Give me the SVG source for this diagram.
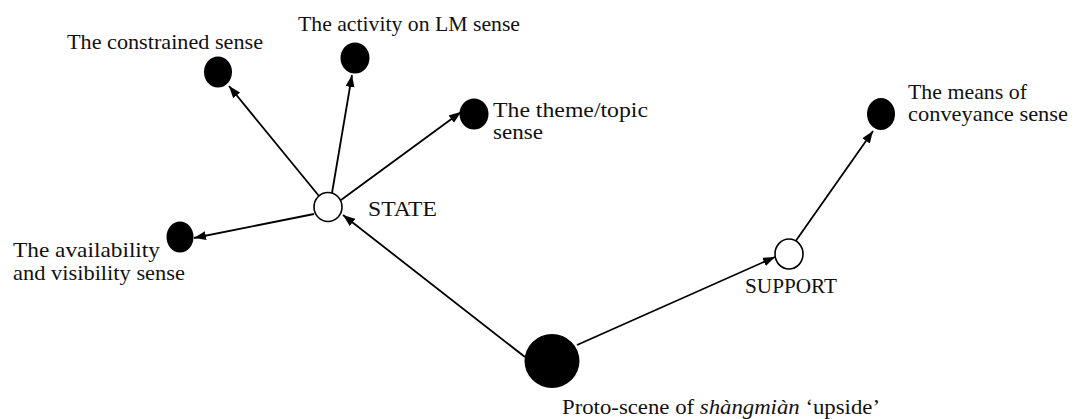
<svg xmlns="http://www.w3.org/2000/svg" width="1073" height="419" viewBox="0 0 1073 419">
  <style>
    .bg { fill: #ffffff; }
    .edge { stroke: #000000; stroke-width: 1.8; fill: none; marker-end: url(#arrow); }
    .solid { fill: #000000; }
    .hollow { fill: #ffffff; stroke: #000000; stroke-width: 1.6; }
    .lbl { font-family: "Liberation Serif", "Times New Roman", serif; font-size: 21px; fill: #111111; }
    .cap { font-family: "Liberation Serif", "Times New Roman", serif; font-size: 21px; fill: #111111; }
  </style>
  <defs>
    <marker id="arrow" markerUnits="userSpaceOnUse" markerWidth="13" markerHeight="10" refX="12" refY="4.5" orient="auto">
      <path d="M0,0 L12,4.5 L0,9 Z" fill="#000000"/>
    </marker>
  </defs>

  <rect class="bg" x="0" y="0" width="1073" height="419"/>

  <!-- connectors -->
  <g id="connectors">
    <line class="edge" x1="525" y1="357" x2="343" y2="215"/>
    <line class="edge" x1="577" y1="345" x2="775" y2="257"/>
    <line class="edge" x1="795" y1="242" x2="873" y2="131"/>
    <line class="edge" x1="319" y1="196" x2="229" y2="86"/>
    <line class="edge" x1="332" y1="193" x2="352" y2="75"/>
    <line class="edge" x1="341" y1="200" x2="461" y2="112"/>
    <line class="edge" x1="314" y1="214" x2="194" y2="238"/>
  </g>

  <!-- proto-scene -->
  <g id="proto">
    <ellipse class="solid" cx="552" cy="361" rx="27.5" ry="27"/>
    <text class="lbl" x="562" y="414" textLength="318" lengthAdjust="spacingAndGlyphs">Proto-scene of <tspan font-style="italic">shàngmiàn</tspan> ‘upside’</text>
  </g>

  <!-- STATE cluster -->
  <g id="state">
    <ellipse class="hollow" cx="328" cy="207" rx="14" ry="14.5"/>
    <text class="cap" x="368" y="216" textLength="69" lengthAdjust="spacingAndGlyphs">STATE</text>
  </g>

  <g id="constrained">
    <ellipse class="solid" cx="218" cy="72" rx="14" ry="15.5"/>
    <text class="lbl" x="67" y="49" textLength="196" lengthAdjust="spacingAndGlyphs">The constrained sense</text>
  </g>

  <g id="activity">
    <ellipse class="solid" cx="355" cy="58" rx="14.5" ry="15.5"/>
    <text class="lbl" x="298" y="31" textLength="222" lengthAdjust="spacingAndGlyphs">The activity on LM sense</text>
  </g>

  <g id="theme">
    <ellipse class="solid" cx="474" cy="114" rx="14.5" ry="15.5"/>
    <text class="lbl" x="493" y="117" textLength="155" lengthAdjust="spacingAndGlyphs">The theme/topic</text>
    <text class="lbl" x="493" y="139" textLength="50" lengthAdjust="spacingAndGlyphs">sense</text>
  </g>

  <g id="availability">
    <ellipse class="solid" cx="180" cy="237" rx="13.5" ry="15.5"/>
    <text class="lbl" x="13" y="257" textLength="147" lengthAdjust="spacingAndGlyphs">The availability</text>
    <text class="lbl" x="13" y="280" textLength="172" lengthAdjust="spacingAndGlyphs">and visibility  sense</text>
  </g>

  <!-- SUPPORT cluster -->
  <g id="support">
    <ellipse class="hollow" cx="789" cy="254" rx="14" ry="15"/>
    <text class="cap" x="745" y="293" textLength="92" lengthAdjust="spacingAndGlyphs">SUPPORT</text>
  </g>

  <g id="conveyance">
    <ellipse class="solid" cx="881" cy="114" rx="14" ry="16"/>
    <text class="lbl" x="908" y="99" textLength="119" lengthAdjust="spacingAndGlyphs">The means of</text>
    <text class="lbl" x="908" y="121" textLength="160" lengthAdjust="spacingAndGlyphs">conveyance sense</text>
  </g>
</svg>
